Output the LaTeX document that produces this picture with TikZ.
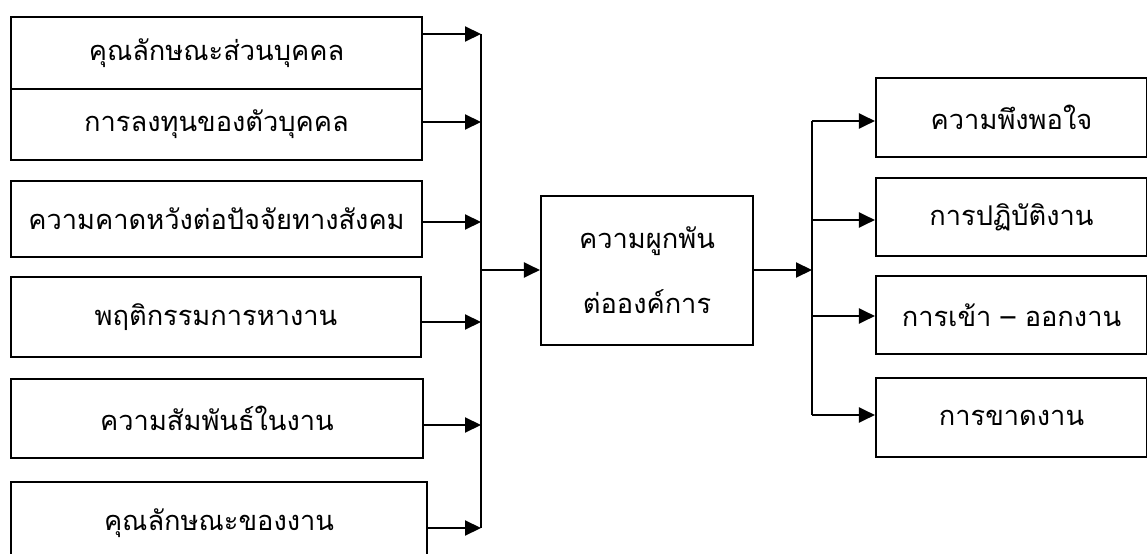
\documentclass[tikz,border=0pt]{standalone}
\usepackage{fontspec}
\newfontfamily\thaifont[Script=Thai]{Loma}
\usetikzlibrary{arrows.meta}
\tikzset{
  box/.style={draw, line width=1.2pt, fill=white, inner sep=0pt, font=\thaifont\fontsize{15.5}{20}\selectfont, align=center},
  arr/.style={line width=1.2pt, -{Triangle[length=0.32cm,width=0.3cm]}},
  bus/.style={line width=1.2pt}
}
\begin{document}
\begin{tikzpicture}[x=0.02cm,y=-0.02cm]
\clip (0,0) rectangle (1147,554);
\fill[white] (0,0) rectangle (1147,554);
% left boxes
\node[box, minimum width=411*0.02cm, minimum height=72*0.02cm] (l1) at (216.5,53) {คุณลักษณะส่วนบุคคล};
\node[box, minimum width=411*0.02cm, minimum height=71*0.02cm] (l2) at (216.5,124.5) {การลงทุนของตัวบุคคล};
\node[box, minimum width=411*0.02cm, minimum height=76*0.02cm] (l3) at (216.5,219) {ความคาดหวังต่อปัจจัยทางสังคม};
\node[box, minimum width=410*0.02cm, minimum height=80*0.02cm] (l4) at (216,317) {พฤติกรรมการหางาน};
\node[box, minimum width=412*0.02cm, minimum height=79*0.02cm] (l5) at (217,418.5) {ความสัมพันธ์ในงาน};
\node[box, minimum width=416*0.02cm, minimum height=82*0.02cm] (l6) at (219,523) {คุณลักษณะของงาน};
% left bus
\coordinate (b1) at (481,34);
\coordinate (b2) at (481,122);
\coordinate (b3) at (481,222);
\coordinate (b4) at (481,322);
\coordinate (b5) at (481,425);
\coordinate (b6) at (481,528);
\coordinate (bm) at (481,270);
\draw[bus] (b1) -- (b6);
\foreach \i in {1,...,6} { \draw[arr] (l\i.east |- b\i) -- (b\i); }
% center
\node[box, minimum width=212*0.02cm, minimum height=149*0.02cm] (c) at (647,270.5) {ความผูกพัน\\[0.6cm]ต่อองค์การ};
\draw[arr] (bm) -- (c.west |- bm);
% right bus
\coordinate (r1) at (812,121);
\coordinate (r2) at (812,220);
\coordinate (r3) at (812,316);
\coordinate (r4) at (812,415);
\coordinate (rm) at (812,270);
\draw[arr] (c.east |- rm) -- (rm);
\draw[bus] (r1) -- (r4);
% right boxes
\node[box, minimum width=271*0.02cm, minimum height=79*0.02cm] (o1) at (1011.5,117.5) {ความพึงพอใจ};
\node[box, minimum width=271*0.02cm, minimum height=78*0.02cm] (o2) at (1011.5,217) {การปฏิบัติงาน};
\node[box, minimum width=271*0.02cm, minimum height=78*0.02cm] (o3) at (1011.5,315) {การเข้า – ออกงาน};
\node[box, minimum width=271*0.02cm, minimum height=79*0.02cm] (o4) at (1011.5,417.5) {การขาดงาน};
\foreach \i in {1,...,4} { \draw[arr] (r\i) -- (o\i.west |- r\i); }
\end{tikzpicture}
\end{document}
